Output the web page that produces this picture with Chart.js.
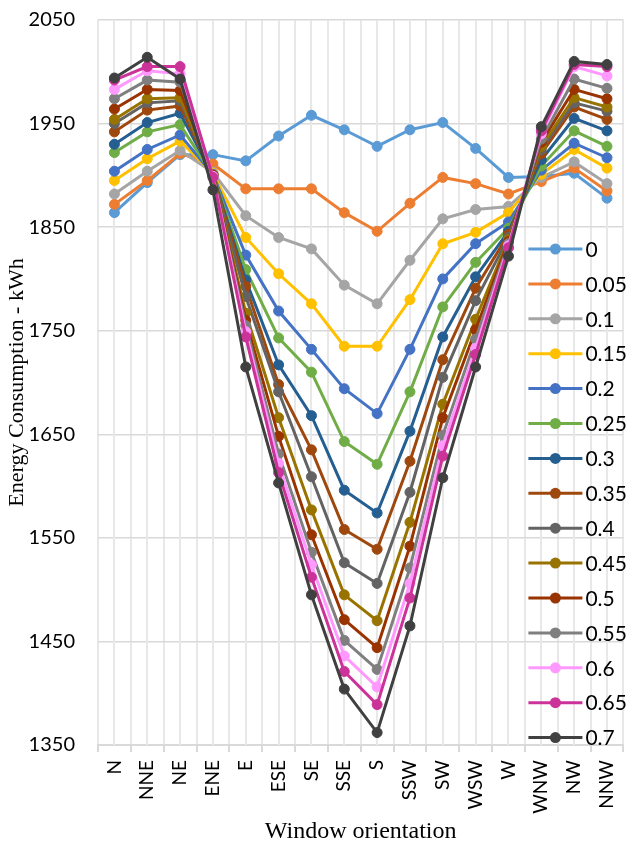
<!DOCTYPE html>
<html>
<head>
<meta charset="utf-8">
<script src="https://cdn.jsdelivr.net/npm/chart.js@4/dist/chart.umd.min.js"></script>
<style>
  html, body { margin: 0; padding: 0; background: #fff; }
  #wrap { width: 638px; height: 846px; }
</style>
</head>
<body>
<div id="wrap"><canvas id="line"></canvas></div>
<script>
// orientations on the x axis
var orientations = ['N', 'NNE', 'NE', 'ENE', 'E', 'ESE', 'SE', 'SSE', 'S', 'SSW', 'SW', 'WSW', 'W', 'WNW', 'NW', 'NNW'];

// one series per window ratio (kWh)
var s000 = [1864, 1893, 1920, 1920, 1914, 1938, 1958, 1944, 1928, 1944, 1951, 1926, 1898, 1899, 1902, 1878];
var s005 = [1872, 1895, 1921, 1911, 1887, 1887, 1887, 1864, 1846, 1873, 1898, 1892, 1882, 1894, 1907, 1885];
var s010 = [1882, 1904, 1924, 1903, 1861, 1840, 1829, 1794, 1776, 1818, 1858, 1867, 1870, 1898, 1913, 1892];
var s015 = [1895, 1916, 1933, 1902, 1840, 1805, 1776, 1735, 1735, 1780, 1834, 1845, 1864, 1901, 1925, 1907];
var s020 = [1904, 1925, 1939, 1901, 1823, 1769, 1732, 1694, 1670, 1732, 1800, 1834, 1855, 1905, 1931, 1917];
var s025 = [1922, 1942, 1949, 1900, 1809, 1743, 1710, 1643, 1621, 1691, 1773, 1816, 1849, 1909, 1943, 1928];
var s030 = [1930, 1951, 1960, 1900, 1799, 1717, 1668, 1596, 1574, 1653, 1744, 1802, 1846, 1915, 1955, 1943];
var s035 = [1942, 1963, 1967, 1900, 1793, 1698, 1635, 1558, 1539, 1624, 1722, 1791, 1843, 1921, 1966, 1954];
var s040 = [1950, 1970, 1972, 1900, 1783, 1691, 1609, 1526, 1506, 1594, 1705, 1779, 1840, 1925, 1970, 1962];
var s045 = [1954, 1974, 1975, 1900, 1767, 1666, 1577, 1495, 1470, 1565, 1679, 1761, 1838, 1928, 1975, 1966];
var s050 = [1964, 1983, 1982, 1900, 1760, 1648, 1553, 1471, 1444, 1542, 1666, 1751, 1836, 1932, 1983, 1974];
var s055 = [1974, 1992, 1990, 1899, 1755, 1631, 1536, 1451, 1423, 1521, 1649, 1742, 1834, 1935, 1993, 1984];
var s060 = [1983, 2001, 1998, 1899, 1749, 1622, 1524, 1436, 1406, 1506, 1639, 1733, 1832, 1940, 2005, 1996];
var s065 = [1992, 2005, 2005, 1898, 1744, 1613, 1512, 1421, 1389, 1492, 1629, 1727, 1830, 1943, 2007, 2005];
var s070 = [1994, 2014, 1993, 1886, 1715, 1603, 1495, 1404, 1362, 1465, 1608, 1715, 1822, 1947, 2010, 2007];

var seriesNames = ['0', '0.05', '0.1', '0.15', '0.2', '0.25', '0.3', '0.35', '0.4', '0.45', '0.5', '0.55', '0.6', '0.65', '0.7'];
var seriesValues = [s000, s005, s010, s015, s020, s025, s030, s035, s040, s045, s050, s055, s060, s065, s070];
var seriesColors = ['#5B9BD5', '#ED7D31', '#A5A5A5', '#FFC000', '#4472C4', '#70AD47', '#255E91', '#9E480E',
    '#636363', '#997300', '#993300', '#7F7F7F', '#FF99FF', '#CC3399', '#404040'];

var yTicks = [1350, 1450, 1550, 1650, 1750, 1850, 1950, 2050];

var labelFont = 'Lato, "Open Sans", sans-serif';
var titleFont = '"Liberation Serif", "Times New Roman", serif';

var dataset = [];
for (var i = 0; i < seriesNames.length; i++) {
    dataset.push({
        label: seriesNames[i],
        data: seriesValues[i],
        borderColor: seriesColors[i],
        backgroundColor: seriesColors[i],
        pointBackgroundColor: seriesColors[i],
        pointBorderColor: seriesColors[i],
        borderWidth: 3,
        pointRadius: 5,
        pointBorderWidth: 1,
        tension: 0,
        order: seriesNames.length - i
    });
}

// gridlines through the category centres (Excel draws both)
var midGrid = {
    id: 'midGrid',
    beforeDatasetsDraw: function (chart) {
        var c = chart.ctx, area = chart.chartArea, xs = chart.scales.x;
        c.save();
        c.strokeStyle = '#e8e8e8';
        c.lineWidth = 2;
        for (var k = 0; k < orientations.length; k++) {
            var px = Math.round(xs.getPixelForValue(k));
            c.beginPath();
            c.moveTo(px, area.top);
            c.lineTo(px, area.bottom);
            c.stroke();
        }
        c.restore();
    }
};

// legend sitting inside the plot, on the right
var insideLegend = {
    id: 'insideLegend',
    afterDraw: function (chart) {
        var c = chart.ctx, area = chart.chartArea;
        var x0 = area.right - 95, y0 = area.top + 229, step = 34.9;
        c.save();
        c.font = '21px ' + labelFont;
        c.textBaseline = 'middle';
        c.textAlign = 'left';
        chart.data.datasets.forEach(function (ds, k) {
            var y = y0 + k * step;
            c.strokeStyle = ds.borderColor;
            c.lineWidth = 3;
            c.beginPath();
            c.moveTo(x0, y);
            c.lineTo(x0 + 54, y);
            c.stroke();
            c.fillStyle = ds.borderColor;
            c.beginPath();
            c.arc(x0 + 27, y, 5.5, 0, Math.PI * 2);
            c.fill();
            c.fillStyle = '#000';
            c.fillText(ds.label, x0 + 57, y + 1);
        });
        c.restore();
    }
};

var ctx = document.getElementById('line').getContext('2d');
var chart = new Chart(ctx, {
    type: 'line',
    data: {
        labels: orientations,
        datasets: dataset
    },
    plugins: [midGrid, insideLegend],
    options: {
        responsive: true,
        maintainAspectRatio: false,
        animation: false,
        layout: { padding: { left: 0, right: 7, top: 20, bottom: 0 } },
        plugins: {
            legend: { display: false },
            tooltip: { enabled: false }
        },
        scales: {
            x: {
                offset: true,
                grid: {
                    offset: true,
                    color: '#e8e8e8',
                    lineWidth: 2,
                    tickLength: 7,
                    tickColor: '#d9d9d9'
                },
                border: { color: '#d9d9d9', width: 2 },
                ticks: {
                    autoSkip: false,
                    maxRotation: 90,
                    minRotation: 90,
                    padding: 8,
                    color: '#000',
                    font: { family: labelFont, size: 19 }
                },
                title: {
                    display: true,
                    text: 'Window orientation',
                    color: '#000',
                    padding: { top: 0, bottom: 0 },
                    font: { family: titleFont, size: 24 }
                },
                afterFit: function (scale) { scale.height = 101; }
            },
            y: {
                min: 1350,
                max: 2050,
                afterBuildTicks: function (scale) {
                    scale.ticks = yTicks.map(function (v) { return { value: v }; });
                },
                grid: {
                    color: '#d9d9d9',
                    lineWidth: 1.5,
                    drawTicks: true,
                    tickLength: 23,
                    tickColor: 'rgba(0,0,0,0)'
                },
                border: { display: false },
                ticks: {
                    padding: 0,
                    color: '#000',
                    font: { family: labelFont, size: 20 },
                    callback: function (v) { return String(v); }
                },
                title: {
                    display: true,
                    text: 'Energy Consumption - kWh',
                    color: '#000',
                    padding: { top: 4, bottom: 0 },
                    font: { family: titleFont, size: 22 }
                },
                afterFit: function (scale) { scale.width = 98; }
            }
        }
    }
});
</script>
</body>
</html>
